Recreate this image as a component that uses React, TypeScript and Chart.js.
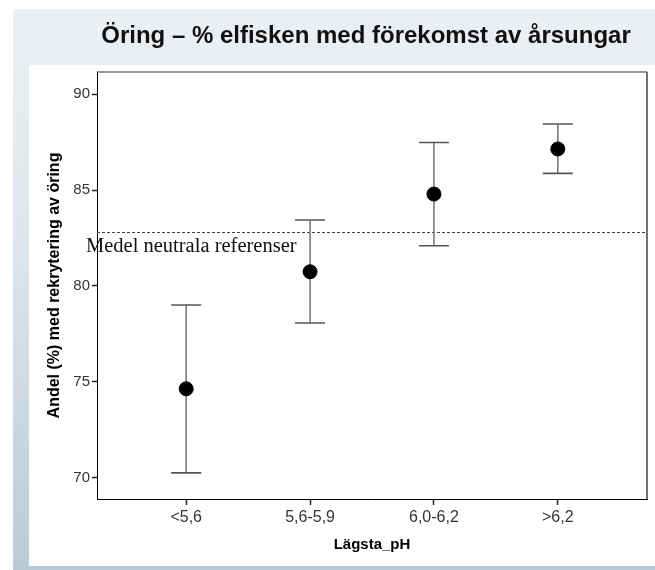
import React, { useEffect, useRef } from "react";
import { Chart, registerables } from "chart.js";

Chart.register(...registerables);

const titleText = "Öring – % elfisken med förekomst av årsungar";
const categories = ["<5,6", "5,6-5,9", "6,0-6,2", ">6,2"];
const means = [74.64, 80.74, 84.79, 87.14];
const lowers = [70.26, 78.07, 82.1, 85.87];
const uppers = [79.01, 83.44, 87.48, 88.44];
const referenceValue = 82.81;
const referenceLabel = "Medel neutrala referenser";
const yTicks = [70, 75, 80, 85, 90];
const yTitle = "Andel (%) med rekrytering av öring";
const xTitle = "Lägsta_pH";

const SANS = "Arial, 'Liberation Sans', sans-serif";

const errorBarPlugin = {
  id: "errorBars",
  beforeDatasetsDraw(chart: any) {
    const { ctx, scales, chartArea } = chart;
    const xs = scales.x;
    const ys = scales.y;
    ctx.save();
    // reference dashed line
    const yr = ys.getPixelForValue(referenceValue);
    ctx.strokeStyle = "#444";
    ctx.lineWidth = 1;
    ctx.setLineDash([3, 2]);
    ctx.beginPath();
    ctx.moveTo(chartArea.left, Math.round(yr) + 0.5);
    ctx.lineTo(chartArea.right, Math.round(yr) + 0.5);
    ctx.stroke();
    ctx.setLineDash([]);
    // error bars
    for (let i = 0; i < categories.length; i++) {
      const x = xs.getPixelForValue(i);
      const yl = ys.getPixelForValue(lowers[i]);
      const yu = ys.getPixelForValue(uppers[i]);
      ctx.strokeStyle = "#7a7a7a";
      ctx.lineWidth = 1.6;
      ctx.beginPath();
      ctx.moveTo(x, yu);
      ctx.lineTo(x, yl);
      ctx.stroke();
      ctx.strokeStyle = "#555";
      ctx.lineWidth = 1.6;
      ctx.beginPath();
      ctx.moveTo(x - 15, yu);
      ctx.lineTo(x + 15, yu);
      ctx.moveTo(x - 15, yl);
      ctx.lineTo(x + 15, yl);
      ctx.stroke();
    }
    ctx.restore();
  },
  afterDraw(chart: any) {
    const { ctx, scales, chartArea } = chart;
    const ys = scales.y;
    ctx.save();
    // frame top/right
    ctx.strokeStyle = "#777";
    ctx.lineWidth = 1.5;
    ctx.beginPath();
    ctx.moveTo(chartArea.left, chartArea.top);
    ctx.lineTo(chartArea.right, chartArea.top);
    ctx.stroke();
    ctx.strokeStyle = "#444";
    ctx.beginPath();
    ctx.moveTo(chartArea.right, chartArea.top);
    ctx.lineTo(chartArea.right, chartArea.bottom);
    ctx.stroke();
    // reference label
    const yr = ys.getPixelForValue(referenceValue);
    ctx.fillStyle = "#111";
    ctx.font = "20.5px 'Liberation Serif', 'DejaVu Serif', serif";
    ctx.textAlign = "left";
    ctx.textBaseline = "alphabetic";
    ctx.fillText(referenceLabel, chartArea.left - 11, yr + 20);
    // title
    ctx.fillStyle = "#111";
    ctx.font = "bold 24px " + SANS;
    ctx.textAlign = "center";
    ctx.textBaseline = "middle";
    ctx.fillText(titleText, 366, 36);
    ctx.restore();
  },
};

export default function App() {
  const ref = useRef<HTMLCanvasElement | null>(null);
  useEffect(() => {
    if (!ref.current) return;
    const chart = new Chart(ref.current, {
      type: "scatter",
      data: {
        datasets: [
          {
            data: means.map((m, i) => ({ x: i, y: m })),
            pointRadius: 7,
            pointHoverRadius: 7,
            backgroundColor: "#000",
            borderColor: "#000",
            showLine: false,
          },
        ],
      },
      options: {
        animation: false,
        responsive: false,
        maintainAspectRatio: false,
        layout: { padding: { top: 72, left: 0, right: 6, bottom: 0 } },
        plugins: {
          legend: { display: false },
          tooltip: { enabled: false },
          title: { display: false },
        },
        scales: {
          x: {
            type: "linear",
            min: -0.72,
            max: 3.72,
            afterBuildTicks: (s: any) => {
              s.ticks = categories.map((_, i) => ({ value: i }));
            },
            afterFit: (s: any) => {
              s.height = 71;
            },
            ticks: {
              autoSkip: false,
              maxRotation: 0,
              padding: 3,
              color: "#333",
              font: { family: SANS, size: 16 },
              callback: (v: any) => categories[v as number] ?? "",
            },
            grid: { drawOnChartArea: false, tickLength: 6, tickColor: "#222", tickWidth: 1.5 },
            border: { color: "#000", width: 1 },
            title: {
              display: true,
              text: xTitle,
              color: "#000",
              font: { family: SANS, size: 15, weight: "bold" },
              padding: { top: 0, bottom: 16 },
            },
          },
          y: {
            type: "linear",
            min: 68.9,
            max: 91.15,
            afterBuildTicks: (s: any) => {
              s.ticks = yTicks.map((v) => ({ value: v }));
            },
            afterFit: (s: any) => {
              s.width = 97;
            },
            ticks: {
              padding: 2,
              color: "#333",
              font: { family: SANS, size: 15 },
            },
            grid: { drawOnChartArea: false, tickLength: 5, tickColor: "#222", tickWidth: 1.5 },
            border: { color: "#000", width: 1 },
            title: {
              display: true,
              text: yTitle,
              color: "#000",
              font: { family: SANS, size: 16, weight: "bold" },
              padding: { top: 45, bottom: 0 },
            },
          },
        },
      },
      plugins: [errorBarPlugin],
    });
    return () => chart.destroy();
  }, []);

  return (
    <div style={{ position: "absolute", left: 0, top: 0, width: 655, height: 570, overflow: "hidden", background: "#fff" }}>
      <div
        style={{
          position: "absolute",
          left: 13,
          top: 9,
          width: 642,
          height: 561,
          background: "linear-gradient(to bottom, #edf0f3 0%, #dde4ea 45%, #b9cad7 100%)",
        }}
      />
      <div style={{ position: "absolute", left: 29, top: 65, width: 626, height: 501, background: "#fff" }} />
      <canvas ref={ref} width={655} height={570} style={{ position: "absolute", left: 0, top: 0, width: 655, height: 570 }} />
    </div>
  );
}
